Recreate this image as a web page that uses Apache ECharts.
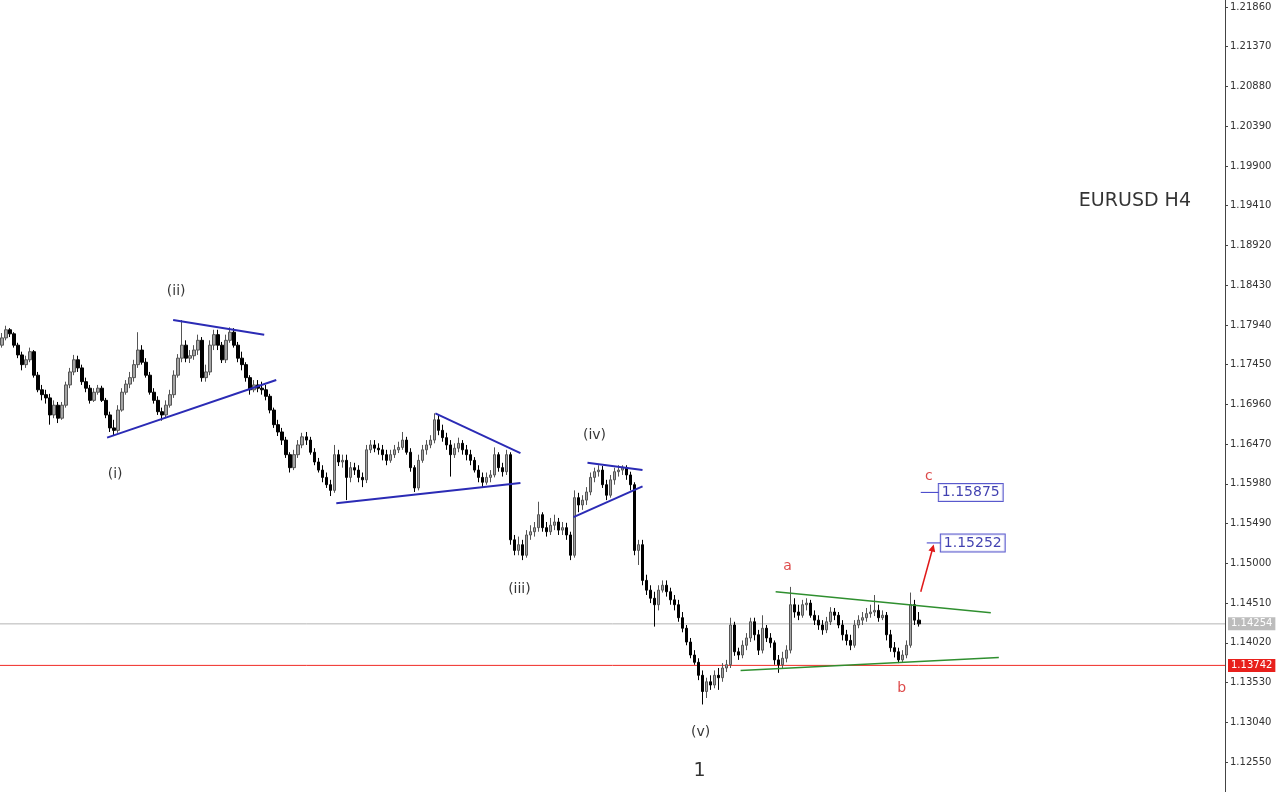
<!DOCTYPE html>
<html><head><meta charset="utf-8">
<script src="https://cdn.jsdelivr.net/npm/echarts@6/dist/echarts.min.js"></script>
<style>html,body{margin:0;padding:0;background:#fff}#c{width:1280px;height:792px}</style>
</head><body><div id="c"></div>
<script>
// OHLC rows: [open, close, low, high]
const ohlc = [
[1.1769,1.1778,1.1766,1.1784],[1.1778,1.1788,1.1775,1.1793],[1.1788,1.1783,1.1779,1.1790],[1.1783,1.1769,1.1766,1.1785],
[1.1769,1.1757,1.1753,1.1772],[1.1757,1.1745,1.1738,1.1761],[1.1745,1.1751,1.1741,1.1756],[1.1751,1.1761,1.1748,1.1766],
[1.1761,1.1732,1.1729,1.1763],[1.1732,1.1714,1.1711,1.1736],[1.1714,1.1708,1.1701,1.1720],[1.1708,1.1704,1.1697,1.1714],
[1.1704,1.1683,1.1671,1.1709],[1.1683,1.1695,1.1679,1.1701],[1.1695,1.1679,1.1673,1.1699],[1.1679,1.1695,1.1677,1.1699],
[1.1695,1.1720,1.1692,1.1724],[1.1720,1.1736,1.1716,1.1741],[1.1736,1.1751,1.1732,1.1757],[1.1751,1.1741,1.1736,1.1756],
[1.1741,1.1724,1.1720,1.1745],[1.1724,1.1716,1.1711,1.1729],[1.1716,1.1701,1.1697,1.1720],[1.1701,1.1711,1.1699,1.1716],
[1.1711,1.1716,1.1708,1.1720],[1.1716,1.1701,1.1699,1.1719],[1.1701,1.1683,1.1679,1.1704],[1.1683,1.1667,1.1662,1.1687],
[1.1667,1.1664,1.1657,1.1677],[1.1664,1.1689,1.1661,1.1695],[1.1689,1.1711,1.1687,1.1716],[1.1711,1.1721,1.1708,1.1726],
[1.1721,1.1729,1.1716,1.1736],[1.1729,1.1745,1.1724,1.1751],[1.1745,1.1763,1.1741,1.1785],[1.1763,1.1748,1.1745,1.1769],
[1.1748,1.1732,1.1729,1.1753],[1.1732,1.1711,1.1708,1.1736],[1.1711,1.1701,1.1697,1.1716],[1.1701,1.1687,1.1683,1.1706],
[1.1687,1.1683,1.1676,1.1692],[1.1683,1.1695,1.1679,1.1701],[1.1695,1.1708,1.1692,1.1714],[1.1708,1.1732,1.1704,1.1738],
[1.1732,1.1753,1.1729,1.1758],[1.1753,1.1769,1.1748,1.1800],[1.1769,1.1753,1.1748,1.1775],[1.1753,1.1756,1.1747,1.1763],
[1.1756,1.1763,1.1751,1.1769],[1.1763,1.1775,1.1757,1.1782],[1.1775,1.1729,1.1724,1.1779],[1.1729,1.1736,1.1724,1.1745],
[1.1736,1.1769,1.1732,1.1775],[1.1769,1.1782,1.1763,1.1788],[1.1782,1.1769,1.1763,1.1788],[1.1769,1.1751,1.1747,1.1773],
[1.1751,1.1775,1.1747,1.1782],[1.1775,1.1785,1.1772,1.1791],[1.1785,1.1769,1.1766,1.1790],[1.1769,1.1753,1.1748,1.1773],
[1.1753,1.1745,1.1738,1.1761],[1.1745,1.1729,1.1724,1.1748],[1.1729,1.1714,1.1708,1.1732],[1.1714,1.1720,1.1711,1.1726],
[1.1720,1.1716,1.1711,1.1726],[1.1716,1.1714,1.1708,1.1724],[1.1714,1.1706,1.1701,1.1720],[1.1706,1.1689,1.1685,1.1709],
[1.1689,1.1671,1.1667,1.1692],[1.1671,1.1662,1.1657,1.1677],[1.1662,1.1652,1.1646,1.1667],[1.1652,1.1634,1.1630,1.1656],
[1.1634,1.1618,1.1612,1.1637],[1.1618,1.1634,1.1615,1.1640],[1.1634,1.1646,1.1630,1.1652],[1.1646,1.1656,1.1642,1.1661],
[1.1656,1.1652,1.1646,1.1662],[1.1652,1.1637,1.1634,1.1656],[1.1637,1.1625,1.1621,1.1642],[1.1625,1.1615,1.1612,1.1630],
[1.1615,1.1606,1.1600,1.1621],[1.1606,1.1597,1.1593,1.1612],[1.1597,1.1590,1.1583,1.1603],[1.1590,1.1634,1.1587,1.1646],
[1.1634,1.1625,1.1620,1.1640],[1.1625,1.1627,1.1618,1.1634],[1.1627,1.1606,1.1578,1.1634],[1.1606,1.1618,1.1600,1.1625],
[1.1618,1.1615,1.1609,1.1624],[1.1615,1.1606,1.1600,1.1621],[1.1606,1.1603,1.1594,1.1612],[1.1603,1.1640,1.1599,1.1646],
[1.1640,1.1646,1.1636,1.1652],[1.1646,1.1642,1.1637,1.1652],[1.1642,1.1640,1.1634,1.1648],[1.1640,1.1634,1.1627,1.1646],
[1.1634,1.1627,1.1621,1.1640],[1.1627,1.1634,1.1624,1.1640],[1.1634,1.1640,1.1630,1.1646],[1.1640,1.1643,1.1636,1.1650],
[1.1643,1.1652,1.1640,1.1662],[1.1652,1.1637,1.1634,1.1656],[1.1637,1.1618,1.1613,1.1642],[1.1618,1.1593,1.1588,1.1621],
[1.1593,1.1627,1.1590,1.1634],[1.1627,1.1640,1.1624,1.1646],[1.1640,1.1646,1.1634,1.1652],[1.1646,1.1652,1.1642,1.1658],
[1.1652,1.1677,1.1648,1.1685],[1.1677,1.1664,1.1658,1.1683],[1.1664,1.1655,1.1650,1.1671],[1.1655,1.1646,1.1640,1.1661],
[1.1646,1.1634,1.1607,1.1652],[1.1634,1.1642,1.1630,1.1648],[1.1642,1.1648,1.1637,1.1655],[1.1648,1.1640,1.1634,1.1652],
[1.1640,1.1634,1.1627,1.1646],[1.1634,1.1627,1.1621,1.1640],[1.1627,1.1615,1.1612,1.1631],[1.1615,1.1606,1.1600,1.1621],
[1.1606,1.1600,1.1594,1.1612],[1.1600,1.1606,1.1597,1.1612],[1.1606,1.1609,1.1600,1.1615],[1.1609,1.1634,1.1606,1.1643],
[1.1634,1.1618,1.1613,1.1637],[1.1618,1.1613,1.1607,1.1624],[1.1613,1.1634,1.1609,1.1640],[1.1634,1.1529,1.1523,1.1637],
[1.1529,1.1516,1.1510,1.1535],[1.1516,1.1523,1.1510,1.1533],[1.1523,1.1510,1.1504,1.1529],[1.1510,1.1535,1.1507,1.1541],
[1.1535,1.1539,1.1529,1.1547],[1.1539,1.1544,1.1533,1.1551],[1.1544,1.1560,1.1539,1.1576],[1.1560,1.1544,1.1539,1.1563],
[1.1544,1.1539,1.1533,1.1551],[1.1539,1.1547,1.1535,1.1556],[1.1547,1.1551,1.1541,1.1560],[1.1551,1.1541,1.1535,1.1556],
[1.1541,1.1544,1.1535,1.1551],[1.1544,1.1535,1.1529,1.1550],[1.1535,1.1510,1.1504,1.1539],[1.1510,1.1581,1.1507,1.1590],
[1.1581,1.1572,1.1563,1.1587],[1.1572,1.1578,1.1566,1.1584],[1.1578,1.1588,1.1572,1.1594],[1.1588,1.1606,1.1584,1.1612],
[1.1606,1.1613,1.1600,1.1618],[1.1613,1.1615,1.1607,1.1621],[1.1615,1.1597,1.1593,1.1620],[1.1597,1.1584,1.1578,1.1603],
[1.1584,1.1603,1.1581,1.1609],[1.1603,1.1613,1.1597,1.1618],[1.1613,1.1615,1.1607,1.1621],[1.1615,1.1618,1.1609,1.1621],
[1.1618,1.1609,1.1603,1.1621],[1.1609,1.1597,1.1590,1.1613],[1.1597,1.1516,1.1510,1.1600],[1.1516,1.1523,1.1498,1.1529],
[1.1523,1.1479,1.1473,1.1529],[1.1479,1.1467,1.1461,1.1486],[1.1467,1.1457,1.1451,1.1473],[1.1457,1.1449,1.1422,1.1465],
[1.1449,1.1467,1.1442,1.1473],[1.1467,1.1473,1.1464,1.1479],[1.1473,1.1465,1.1459,1.1479],[1.1465,1.1455,1.1449,1.1470],
[1.1455,1.1449,1.1442,1.1461],[1.1449,1.1433,1.1428,1.1455],[1.1433,1.1420,1.1415,1.1440],[1.1420,1.1403,1.1399,1.1424],
[1.1403,1.1387,1.1383,1.1408],[1.1387,1.1378,1.1375,1.1393],[1.1378,1.1362,1.1356,1.1383],[1.1362,1.1342,1.1326,1.1368],
[1.1342,1.1354,1.1334,1.1359],[1.1354,1.1350,1.1344,1.1362],[1.1350,1.1362,1.1346,1.1368],[1.1362,1.1359,1.1344,1.1371],
[1.1359,1.1371,1.1354,1.1377],[1.1371,1.1375,1.1366,1.1381],[1.1375,1.1424,1.1371,1.1433],[1.1424,1.1391,1.1386,1.1428],
[1.1391,1.1387,1.1381,1.1396],[1.1387,1.1399,1.1383,1.1405],[1.1399,1.1408,1.1393,1.1414],[1.1408,1.1428,1.1403,1.1433],
[1.1428,1.1412,1.1405,1.1433],[1.1412,1.1393,1.1387,1.1418],[1.1393,1.1420,1.1389,1.1436],[1.1420,1.1408,1.1403,1.1424],
[1.1408,1.1402,1.1396,1.1414],[1.1402,1.1381,1.1375,1.1405],[1.1381,1.1375,1.1365,1.1387],[1.1375,1.1383,1.1371,1.1391],
[1.1383,1.1393,1.1378,1.1399],[1.1393,1.1449,1.1389,1.1471],[1.1449,1.1440,1.1433,1.1457],[1.1440,1.1436,1.1430,1.1449],
[1.1436,1.1449,1.1433,1.1455],[1.1449,1.1451,1.1442,1.1457],[1.1451,1.1436,1.1433,1.1455],[1.1436,1.1430,1.1424,1.1442],
[1.1430,1.1424,1.1418,1.1436],[1.1424,1.1418,1.1412,1.1430],[1.1418,1.1428,1.1414,1.1434],[1.1428,1.1440,1.1424,1.1446],
[1.1440,1.1436,1.1430,1.1445],[1.1436,1.1424,1.1420,1.1440],[1.1424,1.1412,1.1405,1.1430],[1.1412,1.1405,1.1399,1.1418],
[1.1405,1.1399,1.1393,1.1412],[1.1399,1.1424,1.1396,1.1430],[1.1424,1.1430,1.1420,1.1436],[1.1430,1.1433,1.1424,1.1440],
[1.1433,1.1438,1.1428,1.1445],[1.1438,1.1440,1.1433,1.1449],[1.1440,1.1442,1.1435,1.1461],[1.1442,1.1433,1.1428,1.1449],
[1.1433,1.1436,1.1430,1.1442],[1.1436,1.1412,1.1405,1.1440],[1.1412,1.1396,1.1391,1.1418],[1.1396,1.1391,1.1384,1.1403],
[1.1391,1.1381,1.1377,1.1396],[1.1381,1.1387,1.1378,1.1393],[1.1387,1.1399,1.1383,1.1405],[1.1399,1.1449,1.1396,1.1464],
[1.1449,1.1430,1.1424,1.1455],[1.1430,1.14254,1.1422,1.1440]
];
const totalSlots = 306;               // visible bar slots incl. right-side shift
const yTicks = [1.12550,1.13040,1.13530,1.14020,1.14510,1.15000,1.15490,1.15980,1.16470,1.16960,
                1.17450,1.17940,1.18430,1.18920,1.19410,1.19900,1.20390,1.20880,1.21370,1.21860];
const yMin = 1.12181, yMax = 1.21946;
const currentPrice = 1.14254;
const supportLevel = 1.13742;
// trendlines: [[barIndex, price], [barIndex, price]]
const blueLines = [
  [[42.75,1.1800],[65.5,1.1782]],
  [[26.25,1.1655],[68.5,1.1726]],
  [[108.25,1.1685],[129.5,1.1636]],
  [[83.5,1.1574],[129.5,1.1599]],
  [[146.25,1.1624],[160,1.1615]],
  [[142.75,1.1557],[160,1.1595]]
];
const greenLines = [
  [[193.25,1.1465],[247,1.1439]],
  [[184.5,1.1368],[249,1.1384]]
];
const arrowLine = [[229.5,1.1465],[232.5,1.1519]];
const targets = [1.15875, 1.15252];
const targetLeaders = [[229.5,234],[231,234.5]];
const waveLabels = [
  ['(ii)',43.5,1.1835],['(i)',28.25,1.1610],['(iii)',129.25,1.1468],['(iv)',148,1.1658],['(v)',174.5,1.1292]
];
const bigLabels = [['1',174.25,1.1244]];
const redLabels = [['a',196.25,1.1496],['b',224.75,1.1346],['c',231.5,1.1607]];
const titleText = ['EURUSD H4',283,1.1947];

const cats = [];
for (let i = 0; i < totalSlots; i++) cats.push(String(i));

const series = [{
  type: 'candlestick', xAxisIndex: 0, yAxisIndex: 0, data: ohlc, barWidth: 3, z: 3,
  itemStyle: { color: '#a4a4a4', color0: '#000000', borderColor: '#555555', borderColor0: '#000000', borderWidth: 1 }
}];
function hLine(price, color, boxColor) {
  return { type: 'line', xAxisIndex: 1, yAxisIndex: 0, z: 1, silent: true, symbol: 'none',
    data: [[-0.5, price], [totalSlots - 0.5, price]],
    lineStyle: { color: color, width: 1 },
    endLabel: { show: true, distance: 3, formatter: price.toFixed(5), color: '#ffffff',
      backgroundColor: boxColor, padding: [2, 3, 1, 3], fontSize: 10, fontFamily: 'DejaVu Sans' } };
}
series.push(hLine(currentPrice, '#b4b4b4', '#bcbcbc'));
series.push(hLine(supportLevel, '#f02a24', '#e8201c'));
blueLines.forEach(l => series.push({ type: 'line', xAxisIndex: 1, yAxisIndex: 0, data: l, symbol: 'none', silent: true, z: 4,
  lineStyle: { color: '#2b2bb5', width: 2 } }));
greenLines.forEach(l => series.push({ type: 'line', xAxisIndex: 1, yAxisIndex: 0, data: l, symbol: 'none', silent: true, z: 4,
  lineStyle: { color: '#2f8f2f', width: 1.5 } }));
targets.forEach((t, k) => series.push({ type: 'line', xAxisIndex: 1, yAxisIndex: 0,
  data: [[targetLeaders[k][0], t], [targetLeaders[k][1], t]], symbol: 'none', silent: true,
  lineStyle: { color: '#3a3ac8', width: 1 } }));
series.push({ type: 'line', xAxisIndex: 1, yAxisIndex: 0, data: [], silent: true,
  markLine: { symbol: ['none', 'triangle'], symbolSize: 7, silent: true, animation: false,
    lineStyle: { color: '#e01818', width: 1.5, type: 'solid' }, label: { show: false },
    data: [[{ coord: arrowLine[0] }, { coord: arrowLine[1] }]] } });

function textSeries(items, style) {
  return { type: 'scatter', xAxisIndex: 1, yAxisIndex: 0, symbolSize: 0.1, silent: true, z: 5,
    itemStyle: { color: 'transparent' },
    data: items.map(d => ({ value: [d[1], d[2]], name: d[0] })),
    label: Object.assign({ show: true, position: 'inside', formatter: p => p.name }, style) };
}
series.push(textSeries(waveLabels, { color: '#000', fontSize: 14, fontFamily: 'DejaVu Sans' }));
series.push(textSeries(bigLabels, { color: '#000', fontSize: 19, fontFamily: 'DejaVu Sans' }));
series.push(textSeries(redLabels, { color: '#d41c1c', fontSize: 14, fontFamily: 'DejaVu Sans' }));
series.push(textSeries([titleText], { color: '#000', fontSize: 19, fontFamily: 'DejaVu Sans' }));
series.push({ type: 'scatter', xAxisIndex: 1, yAxisIndex: 0, symbolSize: 0.1, silent: true, z: 5,
  itemStyle: { color: 'transparent' },
  data: targets.map((t, k) => ({ value: [targetLeaders[k][1], t], name: t.toFixed(5) })),
  label: { show: true, position: 'right', distance: 0, formatter: p => p.name, color: '#10109c',
    fontSize: 14, fontFamily: 'DejaVu Sans', borderColor: '#3030c0', borderWidth: 1,
    backgroundColor: '#ffffff', padding: [2, 3, 1, 3] } });

const chart = echarts.init(document.getElementById('c'), null, { renderer: 'canvas' });
chart.setOption({
  animation: false,
  backgroundColor: '#ffffff',
  grid: { left: 0, right: 55, top: 0, bottom: 0, containLabel: false },
  xAxis: [
    { type: 'category', data: cats, show: false, boundaryGap: true },
    { type: 'value', min: -0.5, max: totalSlots - 0.5, show: false }
  ],
  yAxis: [{
    type: 'value', position: 'right', min: yMin, max: yMax, scale: true,
    axisLine: { show: true, onZero: false, lineStyle: { color: '#444', width: 1 } },
    axisTick: { show: true, length: 3, customValues: yTicks, lineStyle: { color: '#444' } },
    axisLabel: { show: true, customValues: yTicks, margin: 5, color: '#333', fontSize: 10,
      fontFamily: 'DejaVu Sans', formatter: v => v.toFixed(5) },
    splitLine: { show: false }
  }],
  series: series
});
</script></body></html>
